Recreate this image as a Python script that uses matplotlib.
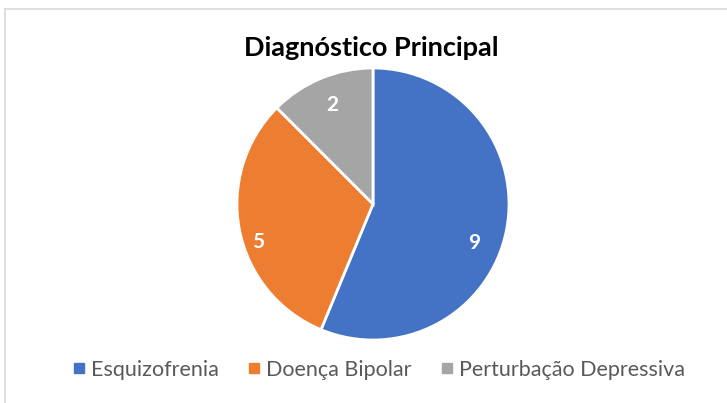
import matplotlib
matplotlib.use("Agg")
from matplotlib import pyplot as plt
from matplotlib.lines import Line2D
import numpy as np

plt.rcParams['font.family'] = ['Lato', 'DejaVu Sans']

# dados
categorias = ["Esquizofrenia", "Doença Bipolar", "Perturbação Depressiva"]
valores = [9, 5, 2]
cores = ["#4472c4", "#ed7d31", "#a5a5a5"]
titulo = "Diagnóstico Principal"

fig = plt.figure(figsize=(7.27, 4.03), dpi=100)
W, H = 727, 403

# moldura do grafico (so topo e esquerda visiveis)
fig.add_artist(Line2D([5 / W, 5 / W], [0, 1 - 9 / H], color="#d9d9d9", lw=1.2, transform=fig.transFigure))
fig.add_artist(Line2D([5 / W, 1], [1 - 9 / H, 1 - 9 / H], color="#d9d9d9", lw=1.2, transform=fig.transFigure))

cx, cy, r = 373, 204, 136
ax = fig.add_axes([(cx - r) / W, (H - cy - r) / H, 2 * r / W, 2 * r / H])

wedges, textos, autotextos = ax.pie(
    valores, colors=cores, startangle=90, counterclock=False,
    autopct=lambda p: "%d" % round(p * sum(valores) / 100),
    radius=1,
    wedgeprops=dict(edgecolor="white", linewidth=2),
    textprops=dict(color="white", fontsize=15, fontweight="bold"))

# posicao dos rotulos tipo "melhor ajuste" do Excel
desvio_ang = [-10, 7, 0]
dist = [0.8, 0.89, 0.79]
for w, t, da, d in zip(wedges, autotextos, desvio_ang, dist):
    ang = np.deg2rad((w.theta1 + w.theta2) / 2 + da)
    t.set_position((d * np.cos(ang), d * np.sin(ang)))

ax.set_xlim(-1, 1)
ax.set_ylim(-1, 1)
ax.set_aspect("equal")
ax.axis("off")

fig.text(371 / W, 1 - 48 / H, titulo, ha="center", va="center",
         fontsize=19.5, fontweight="bold", color="black")

handles = [Line2D([], [], marker="s", linestyle="none", markersize=7,
                  markerfacecolor=c, markeredgecolor=c) for c in cores]
fig.legend(handles, categorias, loc="center", bbox_to_anchor=(378 / W, 33 / H),
           ncol=3, frameon=False, fontsize=15.5, handletextpad=0.2,
           columnspacing=1.3, labelcolor="#595959", handlelength=0.7)

fig.savefig("out.png", dpi=100, facecolor="white")
